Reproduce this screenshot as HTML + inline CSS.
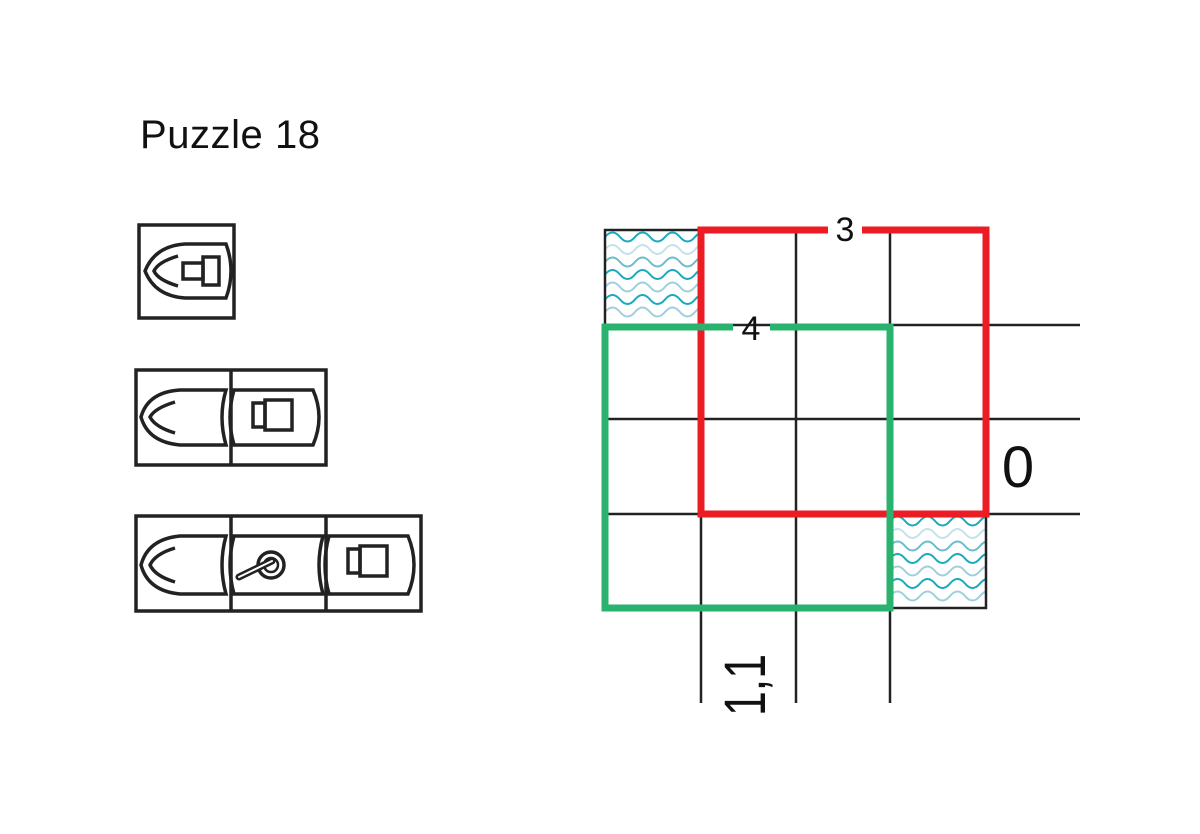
<!DOCTYPE html>
<html><head><meta charset="utf-8"><style>
html,body{margin:0;padding:0;background:#fff;}
svg{display:block}
text{font-family:"Liberation Sans",sans-serif;}
</style></head><body>
<svg width="1200" height="834" viewBox="0 0 1200 834" xmlns="http://www.w3.org/2000/svg">
<defs>
<g id="waves" fill="none" stroke-width="2">
<path d="M0 6 q7.5 -9 15 0 t15 0 t15 0 t15 0 t15 0 t15 0 t15 0" stroke="#1aa9bd"/>
<path d="M0 18.5 q7.5 -9 15 0 t15 0 t15 0 t15 0 t15 0 t15 0 t15 0" stroke="#c3e2ea"/>
<path d="M0 31 q7.5 -9 15 0 t15 0 t15 0 t15 0 t15 0 t15 0 t15 0" stroke="#6cbccc"/>
<path d="M0 43.5 q7.5 -9 15 0 t15 0 t15 0 t15 0 t15 0 t15 0 t15 0" stroke="#1aa9bd"/>
<path d="M0 56 q7.5 -9 15 0 t15 0 t15 0 t15 0 t15 0 t15 0 t15 0" stroke="#9fcfdc"/>
<path d="M0 68.5 q7.5 -9 15 0 t15 0 t15 0 t15 0 t15 0 t15 0 t15 0" stroke="#1aa9bd"/>
<path d="M0 81 q7.5 -9 15 0 t15 0 t15 0 t15 0 t15 0 t15 0 t15 0" stroke="#9fcfdc"/>
</g>
<clipPath id="c1"><rect x="605" y="230" width="96" height="95"/></clipPath>
<clipPath id="c2"><rect x="890" y="514" width="96" height="94"/></clipPath>
</defs>

<text x="140" y="148" font-size="40" textLength="180" fill="#111">Puzzle 18</text>

<!-- boats -->
<g fill="none" stroke="#222" stroke-width="3.5">
<rect x="139" y="225" width="95" height="93"/>
<path d="M185 244 L226 244 Q236 271 226 298 L185 298 Q155 296 145 271 Q155 246 185 244 Z"/>
<path d="M178 256 Q158 262 154 271 Q158 280 178 286"/>
<rect x="183" y="263" width="20" height="16"/>
<rect x="203" y="257" width="16" height="28"/>

<rect x="136" y="370" width="190" height="95"/>
<line x1="231" y1="370" x2="231" y2="465"/>
<path d="M180 390 L226 390 Q218 417 226 445 L180 445 Q148 442 141 417 Q148 392 180 390 Z"/>
<path d="M175 402 Q155 408 150 417 Q155 427 175 433"/>
<path d="M234 390 L313 390 Q325 417 313 445 L234 445 Q226 417 234 390 Z"/>
<rect x="253" y="403" width="12" height="24"/>
<rect x="265" y="400" width="27" height="30"/>

<rect x="136" y="516" width="285" height="95"/>
<line x1="231" y1="516" x2="231" y2="611"/>
<line x1="326" y1="516" x2="326" y2="611"/>
<path d="M180 536 L226 536 Q218 565 226 594 L180 594 Q148 591 141 565 Q148 539 180 536 Z"/>
<path d="M175 548 Q155 554 150 565 Q155 576 175 582"/>
<path d="M234 536 L323 536 Q315 565 323 594 L234 594 Q226 565 234 536 Z"/>
<circle cx="271" cy="565" r="13"/>
<circle cx="271" cy="565" r="7" stroke-width="2.5"/>
<path d="M239 577 L272 561" stroke-width="7" stroke-linecap="round"/>
<path d="M239 577 L272 561" stroke="#fff" stroke-width="2" stroke-linecap="round"/>
<path d="M329 536 L408 536 Q420 565 408 594 L329 594 Q321 565 329 536 Z"/>
<rect x="348" y="549" width="12" height="24"/>
<rect x="360" y="546" width="27" height="30"/>
</g>

<!-- water -->
<g clip-path="url(#c1)"><use href="#waves" x="605" y="231"/></g>
<g clip-path="url(#c2)"><use href="#waves" x="890" y="515"/></g>

<!-- grid -->
<g stroke="#222" stroke-width="2.5" fill="none">
<path d="M605 325 V230 H701"/>
<path d="M890 514 V608 H986 V514"/>
<line x1="796" y1="230" x2="796" y2="703"/>
<line x1="890" y1="230" x2="890" y2="703"/>
<line x1="701" y1="514" x2="701" y2="703"/>
<line x1="605" y1="325" x2="1080" y2="325"/>
<line x1="605" y1="419" x2="1080" y2="419"/>
<line x1="605" y1="514" x2="1080" y2="514"/>
</g>

<!-- red -->
<path d="M828 230 H701 V514 H986 V230 H862" fill="none" stroke="#ec1c24" stroke-width="7"/>
<!-- green -->
<path d="M733 327 H605 V608 H890 V327 H770" fill="none" stroke="#2ab36e" stroke-width="7"/>

<text x="845" y="241" font-size="34" text-anchor="middle" fill="#111">3</text>
<text x="751" y="340" font-size="34" text-anchor="middle" fill="#111">4</text>
<text x="1018" y="487" font-size="58" text-anchor="middle" fill="#111">0</text>
<text transform="translate(765,685) rotate(-90)" font-size="58" text-anchor="middle" textLength="62" lengthAdjust="spacingAndGlyphs" fill="#111">1,1</text>
</svg>
</body></html>
